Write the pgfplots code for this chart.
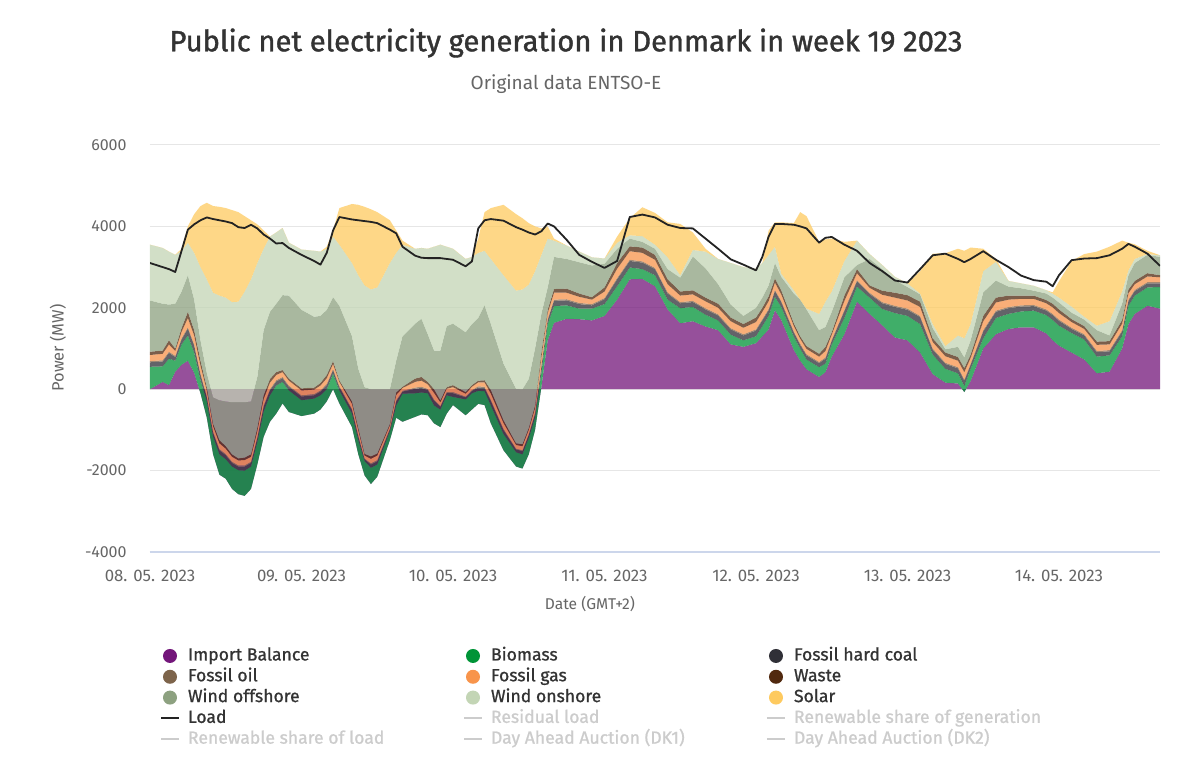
\documentclass[border=0pt]{standalone}
\usepackage{pgfplots}
\pgfplotsset{compat=1.18}
\usepackage{pgfplotstable}
\usepackage{fontspec}
\setmainfont{Fira Sans}
\newfontfamily\titlefont[FakeBold=1.3]{Fira Sans}
\newfontfamily\legfont[FakeBold=0.9]{Fira Sans}

\definecolor{impC}{RGB}{115,22,122}
\definecolor{bioC}{RGB}{0,148,55}
\definecolor{coalC}{RGB}{48,48,55}
\definecolor{oilC}{RGB}{125,100,75}
\definecolor{gasC}{RGB}{248,148,75}
\definecolor{wasteC}{RGB}{81,41,15}
\definecolor{offC}{RGB}{141,161,128}
\definecolor{onC}{RGB}{195,213,181}
\definecolor{solC}{RGB}{254,202,95}
\definecolor{loadC}{RGB}{35,35,35}
\definecolor{gridC}{RGB}{230,230,230}
\definecolor{axisC}{RGB}{204,214,235}
\definecolor{tickC}{RGB}{102,102,102}
\definecolor{titleC}{RGB}{51,51,51}
\definecolor{lgrey}{RGB}{204,204,204}

\pgfplotstableread{
h imp bio coal oil gas waste off on sol load
0 0 550 110 30 150 80 1260 1370 0 3100
2 180 380 120 30 160 80 1150 1370 0 3000
3 100 650 140 30 180 100 880 1300 0 2950
4 430 270 90 30 120 60 1100 1200 0 2880
5 600 500 120 30 160 90 900 1000 50 3400
6 700 620 170 30 230 150 900 800 400 3920
7 400 500 170 30 220 130 750 1150 950 4050
8 -100 320 140 30 190 120 500 1800 1500 4150
9 -700 400 100 30 140 80 350 2300 1880 4220
10 -1600 430 100 30 130 60 650 2570 2130 4180
11 -2100 500 100 30 140 80 980 2570 2180 4150
12 -2200 480 100 30 130 60 1100 2550 2200 4120
13 -2450 550 90 30 120 60 1280 2460 2260 4080
14 -2580 590 90 30 120 50 1380 2470 2200 3980
15 -2620 620 100 30 130 60 1360 2720 1850 3960
16 -2450 550 90 30 120 60 1300 3000 1450 4040
17 -1850 550 100 30 140 80 1250 2800 950 3950
18 -1170 620 120 30 160 90 1600 2000 450 3800
19 -800 650 120 30 160 90 1650 1850 0 3700
20 -600 690 100 30 130 70 1680 1750 0 3580
21 -350 530 90 30 120 50 1840 1650 0 3590
22 -560 530 90 30 120 50 2040 1300 0 3470
24 -660 390 90 30 120 50 1930 1480 0 3300
26 -600 370 80 30 110 50 1740 1620 0 3150
27 -500 350 90 30 120 60 1650 1580 0 3060
28 -300 300 100 30 140 80 1600 1500 50 3350
29 0 380 90 30 120 70 1570 1490 150 3900
30 -350 320 80 30 100 40 1830 1500 900 4230
32 -930 330 90 30 120 60 1600 1800 1450 4170
33 -1600 350 90 30 120 60 1450 2300 1730 4150
34 -2120 350 50 20 70 40 1640 2500 1930 4130
35 -2330 400 80 30 110 60 1650 2450 1970 4110
36 -2150 300 80 30 110 50 1580 2500 1850 4080
38 -1250 220 50 20 70 40 850 3100 1050 3920
39 -700 300 100 30 130 60 780 2650 550 3830
40 -800 690 50 20 70 30 1240 2250 100 3500
42 -680 580 110 30 140 80 1350 1840 0 3280
43 -620 540 110 30 150 90 1430 1740 0 3230
44 -640 540 80 30 110 60 1170 2100 0 3220
45 -840 440 120 30 160 90 950 2550 0 3220
46 -930 430 70 20 90 50 1220 2600 0 3220
47 -600 450 60 20 80 40 1500 1950 0 3200
48 -390 200 90 30 120 50 1510 1840 0 3180
50 -640 390 50 20 70 40 1470 1800 0 3020
51 -500 400 60 20 80 40 1500 1650 0 3140
52 -360 320 80 30 100 40 1540 1600 350 3950
53 -390 340 80 30 110 50 1840 1340 950 4150
54 -840 440 110 30 150 90 1620 1600 1250 4180
56 -1500 400 100 30 140 70 1390 2170 1730 4140
58 -1900 350 70 20 90 40 1340 2410 1880 3980
59 -1950 350 80 20 100 50 1350 2450 1750 3920
60 -1600 400 80 20 100 50 1200 2320 1510 3850
61 -1000 300 90 30 120 60 1400 1900 1100 3800
62 50 350 150 30 200 120 950 1450 650 3880
63 1200 400 100 30 140 80 550 1200 300 4070
64 1630 410 130 30 170 90 790 400 50 4000
66 1730 330 120 30 160 100 730 330 0 3670
68 1720 260 110 30 150 80 770 260 0 3300
70 1690 290 80 30 110 60 780 200 0 3130
72 1800 290 120 30 160 100 580 130 0 2980
74 2200 330 170 30 230 140 350 150 150 3150
76 2700 290 160 30 210 120 190 80 420 4230
78 2710 240 160 30 210 130 140 140 710 4290
80 2530 270 150 30 200 120 150 100 780 4220
82 1960 240 150 30 200 120 250 290 860 4040
84 1620 370 120 30 160 100 340 60 1260 3960
86 1670 350 120 30 160 100 830 160 430 3950
88 1540 290 130 30 170 90 720 410 70 3700
90 1450 240 120 30 160 100 480 620 0 3450
92 1100 240 130 30 170 90 320 1020 0 3190
94 1040 160 120 30 160 90 200 1200 0 3060
96 1130 170 140 30 180 110 240 960 0 2920
97 1300 250 140 30 180 100 250 850 0 3250
98 1470 330 140 30 190 120 270 750 600 3750
99 1940 330 140 30 180 100 380 400 600 4060
100 1700 320 120 30 160 100 330 80 1260 4060
102 960 330 100 30 130 70 730 80 1650 4040
103 700 300 90 30 120 60 900 0 2150 4000
104 490 240 100 30 130 70 900 20 2270 3950
106 300 240 100 30 130 70 580 400 1770 3600
107 420 210 120 30 160 100 490 620 1530 3720
108 800 300 90 30 120 60 500 500 1300 3740
110 1350 400 170 30 220 130 450 400 470 3550
112 2150 370 130 30 170 100 100 600 0 3400
114 1850 400 90 30 120 60 650 120 0 3100
116 1570 400 140 30 180 100 530 100 0 2900
118 1270 600 150 30 200 120 310 80 0 2670
120 1200 600 150 30 200 130 200 90 0 2620
122 900 700 170 30 220 130 180 20 550 2950
124 370 480 120 30 160 90 250 100 1730 3290
126 160 340 120 30 160 90 80 80 2280 3330
128 140 250 120 30 160 90 250 280 2130 3200
129 -70 150 130 30 180 100 260 470 2150 3120
130 200 300 100 30 140 80 350 400 1880 3200
132 1000 250 170 30 220 130 580 520 550 3390
134 1350 400 150 30 200 120 420 460 70 3180
136 1480 370 140 30 180 100 220 140 0 3000
138 1520 390 120 30 160 80 180 120 0 2790
140 1520 410 110 30 150 80 120 120 0 2680
142 1370 450 110 30 150 80 160 80 0 2640
143 1200 500 120 30 160 90 150 100 30 2530
144 1070 490 120 30 160 90 170 120 400 2800
146 900 480 100 30 140 70 160 150 1120 3170
148 730 490 100 30 130 70 160 70 1540 3210
150 390 410 110 30 150 80 280 110 1820 3220
152 430 400 100 30 140 80 140 350 1830 3290
154 1000 300 120 30 160 90 400 300 1250 3450
155 1600 450 120 30 160 90 350 120 680 3570
156 1850 450 110 30 140 80 440 100 360 3500
158 2050 450 100 30 140 80 450 20 80 3330
160 1980 530 90 30 120 50 450 40 0 3030
}\data

\pgfplotsset{
  circimg/.style={legend image code/.code={\path[draw=none,fill=none] (0pt,-3.5pt) rectangle (10pt,3.5pt); \fill[#1, draw=none] (5pt,0pt) circle (3.5pt);}},
  lineimg/.style={legend image code/.code={\path[draw=none,fill=none] (0pt,-3.5pt) rectangle (10pt,3.5pt); \draw[#1, fill=none, line width=0.9pt] (0.5pt,0pt) -- (9.5pt,0pt);}},
}
\newcommand{\lent}[1]{\makebox[141.5pt][l]{\hspace{4pt}#1}}

\begin{document}
\begin{tikzpicture}
\path[use as bounding box, fill=white] (-75pt,-108.5pt) rectangle (525pt,276pt);
\begin{axis}[
  at={(0pt,0pt)}, anchor=south west,
  scale only axis, width=505pt, height=203.5pt,
  xmin=0, xmax=160, ymin=-4000, ymax=6000,
  stack plots=y, reverse stacked plots=false,
  axis x line*=bottom, axis y line*=left,
  axis line style={-},
  x axis line style={draw=axisC, line width=0.6pt},
  y axis line style={draw=none},
  major tick length=0pt,
  ymajorgrids, major grid style={draw=gridC, line width=0.5pt},
  xtick={0,24,48,72,96,120,144},
  xticklabels={08. 05. 2023,09. 05. 2023,10. 05. 2023,11. 05. 2023,12. 05. 2023,13. 05. 2023,14. 05. 2023},
  ytick={-4000,-2000,0,2000,4000,6000},
  yticklabels={-4000,-2000,0,2000,4000,6000},
  tick label style={font=\fontsize{8}{9}\selectfont, text=tickC},
  xticklabel style={anchor=center, inner sep=0pt, yshift=-12pt, font=\fontsize{8.4}{9}\selectfont},
  yticklabel style={anchor=east, inner sep=0pt, xshift=-11.5pt},
  xlabel={Date (GMT+2)},
  xlabel style={at={(axis description cs:0.4356,-0.1278)}, anchor=center, inner sep=0pt, font=\fontsize{7.8}{9}\selectfont, text=tickC},
  ylabel={Power (MW)},
  ylabel style={at={(axis description cs:-0.0911,0.501)}, anchor=center, rotate=0, inner sep=0pt, font=\fontsize{8.2}{9}\selectfont, text=tickC},
  every axis plot/.append style={draw=none, fill opacity=0.75},
]
\addplot[fill=impC] table[x=h,y=imp]{\data} \closedcycle;
\addplot[fill=bioC] table[x=h,y=bio]{\data} \closedcycle;
\addplot[fill=coalC] table[x=h,y=coal]{\data} \closedcycle;
\addplot[fill=oilC] table[x=h,y=oil]{\data} \closedcycle;
\addplot[fill=gasC] table[x=h,y=gas]{\data} \closedcycle;
\addplot[fill=wasteC] table[x=h,y=waste]{\data} \closedcycle;
\addplot[fill=offC] table[x=h,y=off]{\data} \closedcycle;
\addplot[fill=onC] table[x=h,y=on]{\data} \closedcycle;
\addplot[fill=solC] table[x=h,y=sol]{\data} \closedcycle;
\end{axis}
\begin{axis}[
  at={(0pt,0pt)}, anchor=south west,
  scale only axis, width=505pt, height=203.5pt,
  xmin=0, xmax=160, ymin=-4000, ymax=6000,
  hide axis,
  legend columns=3,
  legend cell align=left,
  legend style={at={(axis description cs:0.0099,-0.2346)}, anchor=north west,
    draw=none, fill=none, inner sep=0pt, outer sep=0pt,
    row sep=1.9pt, column sep=0pt,
    font=\legfont\fontsize{8.8}{10}\selectfont, text=titleC,
    nodes={inner sep=0pt, text height=6.5pt, text depth=2pt, anchor=west}},
]
\addplot[loadC, line width=0.9pt, line join=round, forget plot] table[x=h,y=load]{\data};
\addlegendimage{circimg=impC}
\addlegendentry{\lent{Import Balance}}
\addlegendimage{circimg=bioC}
\addlegendentry{\lent{Biomass}}
\addlegendimage{circimg=coalC}
\addlegendentry{\lent{Fossil hard coal}}
\addlegendimage{circimg=oilC}
\addlegendentry{\lent{Fossil oil}}
\addlegendimage{circimg=gasC}
\addlegendentry{\lent{Fossil gas}}
\addlegendimage{circimg=wasteC}
\addlegendentry{\lent{Waste}}
\addlegendimage{circimg=offC}
\addlegendentry{\lent{Wind offshore}}
\addlegendimage{circimg=onC}
\addlegendentry{\lent{Wind onshore}}
\addlegendimage{circimg=solC}
\addlegendentry{\lent{Solar}}
\addlegendimage{lineimg=loadC}
\addlegendentry{\lent{Load}}
\addlegendimage{lineimg=lgrey}
\addlegendentry{\lent{\textcolor{lgrey}{Residual load}}}
\addlegendimage{lineimg=lgrey}
\addlegendentry{\lent{\textcolor{lgrey}{Renewable share of generation}}}
\addlegendimage{lineimg=lgrey}
\addlegendentry{\lent{\textcolor{lgrey}{Renewable share of load}}}
\addlegendimage{lineimg=lgrey}
\addlegendentry{\lent{\textcolor{lgrey}{Day Ahead Auction (DK1)}}}
\addlegendimage{lineimg=lgrey}
\addlegendentry{\lent{\textcolor{lgrey}{Day Ahead Auction (DK2)}}}
\end{axis}
\node[font=\titlefont\fontsize{14.6}{16}\selectfont, text=titleC, inner sep=0pt] at (208pt,254.5pt) {Public net electricity generation in Denmark in week 19 2023};
\node[font=\fontsize{9.5}{11}\selectfont, text=tickC, inner sep=0pt] at (208pt,234pt) {Original data ENTSO-E};
\end{tikzpicture}
\end{document}
